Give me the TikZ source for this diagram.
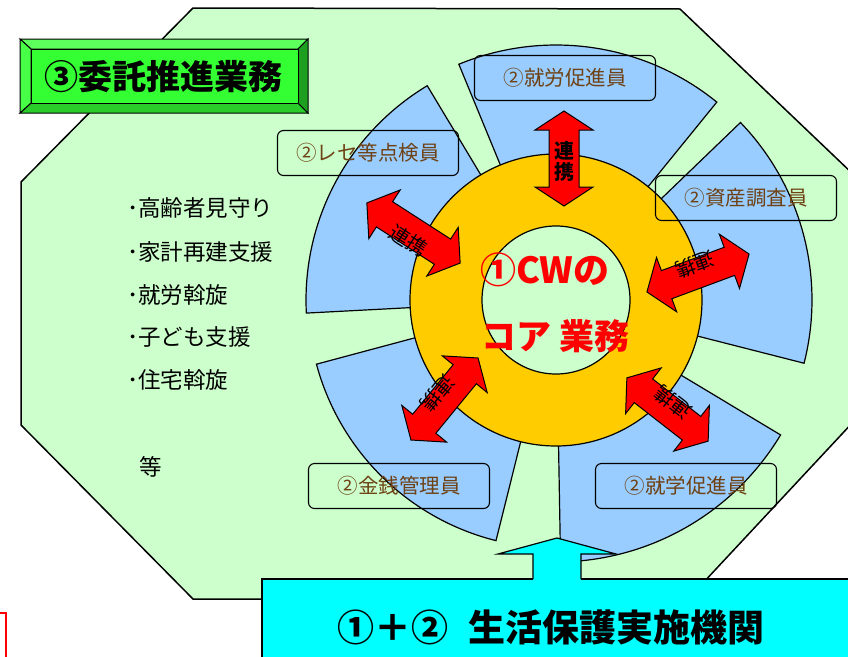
\documentclass[tikz,border=0pt]{standalone}
\usepackage{fontspec}
\setmainfont{Noto Sans CJK JP}
\definecolor{octgreen}{HTML}{CCFFCC}
\definecolor{secblue}{HTML}{99CCFF}
\definecolor{ringyellow}{HTML}{FFCC00}
\definecolor{labbrown}{RGB}{110,66,20}
\definecolor{titleface}{HTML}{33FF33}
\definecolor{titletop}{HTML}{5CFF5C}
\definecolor{titleleft}{HTML}{47FF47}
\definecolor{titlebottom}{HTML}{29CC29}
\definecolor{titleright}{HTML}{1F9F1F}
\definecolor{boxcyan}{HTML}{00FFFF}
\newcommand{\renkeiarrow}[4]{%
  \begin{scope}[shift={#1},rotate=-#2]
    \filldraw[redarr] ({-#3/2},0) -- ({-#3/2+21},-29) -- ({-#3/2+21},-15) -- ({#3/2-21},-15) -- ({#3/2-21},-29) -- ({#3/2},0)
      -- ({#3/2-21},29) -- ({#3/2-21},15) -- ({-#3/2+21},15) -- ({-#3/2+21},29) -- cycle;
    \node[arrtext] (#4) at (0,9) {連携};
  \end{scope}}
\begin{document}
\begin{tikzpicture}[x=1pt,y=-1pt,
  sector/.style={fill=secblue, draw=black, line width=1.2pt},
  lab/.style={draw=black, line width=1.1pt, rounded corners=6pt, minimum width=181pt, minimum height=45pt, text=labbrown, font=\fontsize{20.5}{24}\selectfont, inner sep=0pt},
  redarr/.style={fill=red, draw=black, line width=1pt, line join=miter},
  arrtext/.style={font=\fontsize{20}{22}\selectfont, inner sep=0pt, transform shape},
  listitem/.style={anchor=west, font=\fontsize{22.5}{25}\selectfont, inner sep=0pt},
  bevel/.style={draw=black, line width=1pt, line join=miter}
]
\useasboundingbox (0,0) rectangle (848,656);
\clip (0,0) rectangle (848,656);
\fill[white] (0,0) rectangle (848,656);

% octagon
\filldraw[fill=octgreen, draw=black, line width=1.5pt] (193,8) -- (680,9) -- (855,176) -- (855,420) -- (688,599) -- (193,599) -- (21,425) -- (21,182) -- cycle;

% blue sectors
\filldraw[sector] (556,300) -- plot[domain=-112.4:-50.9, samples=60] ({556+255*cos(\x)},{300+255*sin(\x)}) -- cycle;
\filldraw[sector] (556,300) -- plot[domain=-43.9:14.3, samples=60] ({556+256*cos(\x)},{300+256*sin(\x)}) -- cycle;
\filldraw[sector] (556,300) -- plot[domain=31:89, samples=60] ({556+262*cos(\x)},{300+262*sin(\x)}) -- cycle;
\filldraw[sector] (556,300) -- plot[domain=104:165, samples=60] ({556+248*cos(\x)},{300+248*sin(\x)}) -- cycle;
\filldraw[sector] (556,300) -- plot[domain=177:239, samples=60] ({556+250*cos(\x)},{300+250*sin(\x)}) -- cycle;

% ring and core
\filldraw[fill=ringyellow, draw=black, line width=1.2pt] (556,300) circle[radius=146];
\filldraw[fill=octgreen, draw=black, line width=1.2pt] (556,300) circle[radius=74];
\node[anchor=west, text=red, font=\bfseries\fontsize{36}{40}\selectfont, inner sep=0pt] (cw) at (480,270) {①CWの};
\node[anchor=west, text=red, font=\bfseries\fontsize{35}{40}\selectfont, inner sep=0pt] (core) at (481,336) {コア 業務};

% member labels
\node[lab] (shuro) at (565,78) {②就労促進員};
\node[lab] (rese) at (368,153) {②レセ等点検員};
\node[lab] (shisan) at (746,198) {②資産調査員};
\node[lab] (kinsen) at (399,486) {②金銭管理員};
\node[lab] (shugaku) at (686,486) {②就学促進員};

% red double arrows
\begin{scope}[shift={(564,158.5)},rotate=-90]
  \filldraw[redarr] (-47.5,0) -- (-28.5,-29) -- (-28.5,-15) -- (28.5,-15) -- (28.5,-29) -- (47.5,0)
    -- (28.5,29) -- (28.5,15) -- (-28.5,15) -- (-28.5,29) -- cycle;
\end{scope}
\node[font=\bfseries\fontsize{20}{21}\selectfont, align=center, inner sep=0pt] (rtop) at (564,161.5) {連\\携};
\renkeiarrow{(413.5,233)}{32.8}{111}{rul}
\renkeiarrow{(698,273)}{159.6}{109}{rur}
\renkeiarrow{(667.5,409.5)}{217.9}{103}{rlr}
\renkeiarrow{(444.5,399)}{129.3}{106}{rll}

% left list
\node[listitem] (i1) at (127,208) {･高齢者見守り};
\node[listitem] (i2) at (127,252) {･家計再建支援};
\node[listitem] (i3) at (127,295) {･就労斡旋};
\node[listitem] (i4) at (127,337) {･子ども支援};
\node[listitem] (i5) at (127,380) {･住宅斡旋};
\node[listitem] (i6) at (139,467) {等};

% title bevel box
\filldraw[bevel, fill=titletop] (20,39) -- (308,39) -- (298,49) -- (31,49) -- cycle;
\filldraw[bevel, fill=titlebottom] (20,113) -- (308,113) -- (298,103) -- (31,103) -- cycle;
\filldraw[bevel, fill=titleleft] (20,39) -- (31,49) -- (31,103) -- (20,113) -- cycle;
\filldraw[bevel, fill=titleright] (308,39) -- (298,49) -- (298,103) -- (308,113) -- cycle;
\filldraw[bevel, fill=titleface] (31,49) rectangle (298,103);
\node[font=\bfseries\fontsize{34}{40}\selectfont, inner sep=0pt] (title) at (163,77) {③委託推進業務};

% bottom box and arrow
\filldraw[fill=boxcyan, draw=black, line width=1.5pt] (262,579) rectangle (870,680);
\fill[boxcyan] (533,554) rectangle (581,581);
\filldraw[fill=boxcyan, draw=black, line width=1.2pt, line join=miter] (533,579) -- (533,554) -- (498,554) -- (557,538) -- (616,554) -- (581,554) -- (581,579);
\node[anchor=west, font=\bfseries\fontsize{37}{40}\selectfont, inner sep=0pt] (kikan) at (337,627) {①＋②\hspace{0.55em}生活保護実施機関};

% red mark at lower left
\draw[red, line width=2pt] (0,613) -- (6,613) -- (6,660);
\end{tikzpicture}
\end{document}
